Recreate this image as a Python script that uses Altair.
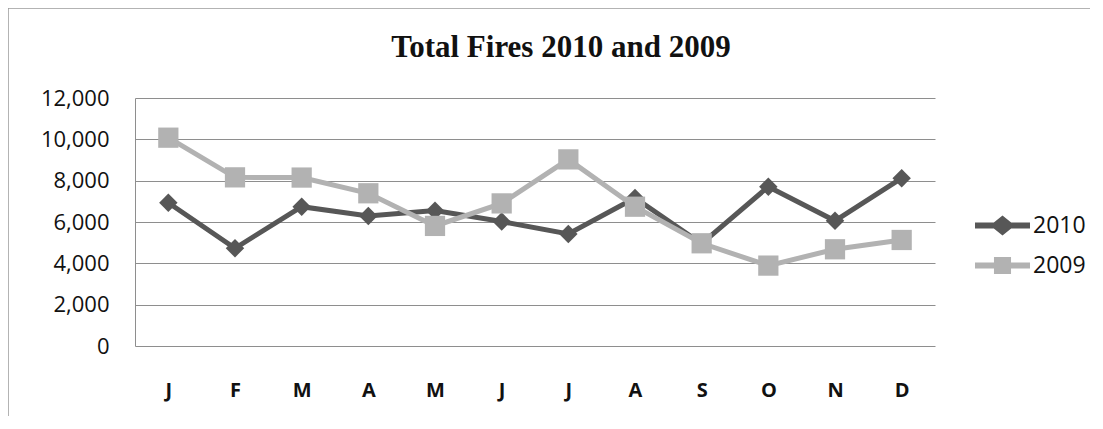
import altair as alt
import pandas as pd

month_keys = ["Jan", "Feb", "Mar", "Apr", "May", "Jun", "Jul", "Aug", "Sep", "Oct", "Nov", "Dec"]
fires_2010 = [6930, 4730, 6740, 6290, 6550, 6020, 5420, 7160, 4950, 7710, 6060, 8120]
fires_2009 = [10080, 8160, 8150, 7390, 5810, 6900, 9030, 6740, 4970, 3890, 4680, 5130]
series_names = ["2010", "2009"]
y_ticks = [0, 2000, 4000, 6000, 8000, 10000, 12000]

DARK = "#575757"
LIGHT = "#b2b2b2"
GRID = "#8e8e8e"

rows = []
for m, v in zip(month_keys, fires_2010):
    rows.append({"month": m, "fires": v, "series": "2010"})
for m, v in zip(month_keys, fires_2009):
    rows.append({"month": m, "fires": v, "series": "2009"})
df = pd.DataFrame(rows)

x_enc = alt.X(
    "month:N",
    sort=month_keys,
    scale=alt.Scale(domain=month_keys, type="point", padding=0.5),
    axis=alt.Axis(
        title=None,
        labelExpr="substring(datum.value, 0, 1)",
        labelFont="Open Sans",
        labelFontWeight="bold",
        labelFontSize=20,
        labelColor="#111111",
        labelPadding=34,
        ticks=False,
        tickSize=0,
        domain=False,
        grid=False,
        labelAngle=0,
    ),
)
y_enc = alt.Y(
    "fires:Q",
    scale=alt.Scale(domain=[0, 12000], nice=False),
    axis=alt.Axis(
        title=None,
        values=y_ticks,
        format=",.0f",
        labelFont="Open Sans",
        labelFontSize=22,
        labelColor="#111111",
        labelPadding=26,
        ticks=False,
        tickSize=0,
        domain=True,
        domainColor=GRID,
        domainWidth=1,
        grid=True,
        gridColor=GRID,
        gridWidth=1,
        gridOpacity=1,
    ),
)

base = alt.Chart(df)

def series_layers(name, color, shape, size):
    sub = base.transform_filter(alt.datum.series == name)
    line = sub.mark_line(strokeWidth=5, color=color).encode(x=x_enc, y=y_enc)
    pts = sub.mark_point(filled=True, opacity=1, strokeWidth=0, color=color, shape=shape, size=size).encode(
        x=x_enc, y=y_enc
    )
    return [line, pts]

path_diamond = "M-1,-0.11L1,-0.11L1,0.11L-1,0.11Z M0,-0.36L0.45,0L0,0.36L-0.45,0Z"
path_square = "M-1,-0.11L1,-0.11L1,0.11L-1,0.11Z M-0.31,-0.31L0.31,-0.31L0.31,0.31L-0.31,0.31Z"

legend_props = dict(
    title=None,
    orient="none",
    legendX=840,
    legendY=100,
    symbolSize=3025,
    symbolStrokeWidth=0,
    labelFont="Open Sans",
    labelFontSize=23,
    labelColor="#111111",
    labelOffset=3,
    rowPadding=-6,
)

legend_layer = base.transform_filter("false").mark_point(filled=True, opacity=1, strokeWidth=0).encode(
    x=x_enc,
    y=y_enc,
    color=alt.Color(
        "series:N",
        scale=alt.Scale(domain=series_names, range=[DARK, LIGHT]),
        legend=alt.Legend(**legend_props),
    ),
    shape=alt.Shape(
        "series:N",
        scale=alt.Scale(domain=series_names, range=[path_diamond, path_square]),
        legend=alt.Legend(**legend_props),
    ),
)

one = pd.DataFrame({"a": [0]})
border_top = alt.Chart(one).mark_rule(color="#9a9a9a", strokeWidth=1.5).encode(
    x=alt.value(-127), x2=alt.value(970), y=alt.value(-90)
)
border_left = alt.Chart(one).mark_rule(color="#9a9a9a", strokeWidth=1.5).encode(
    x=alt.value(-127), y=alt.value(-90), y2=alt.value(330)
)

layers = (
    series_layers("2010", DARK, "diamond", 340)
    + series_layers("2009", LIGHT, "square", 410)
    + [legend_layer, border_top, border_left]
)

chart = (
    alt.layer(*layers)
    .resolve_scale(color="independent", shape="independent")
    .properties(
        width=800,
        height=248,
        autosize=alt.AutoSizeParams(type="none"),
        padding={"left": 127, "top": 90, "right": 155, "bottom": 70},
        background="white",
        title=alt.TitleParams(
            text="Total Fires 2010 and 2009",
            font="Liberation Serif",
            fontSize=31,
            fontWeight="bold",
            color="#111111",
            anchor="middle",
            dx=26,
            dy=80.5,
            baseline="alphabetic",
            offset=0,
        ),
    )
    .configure_view(stroke=None)
)

chart.save("out.html", embed_options={"renderer": "svg", "actions": False})
